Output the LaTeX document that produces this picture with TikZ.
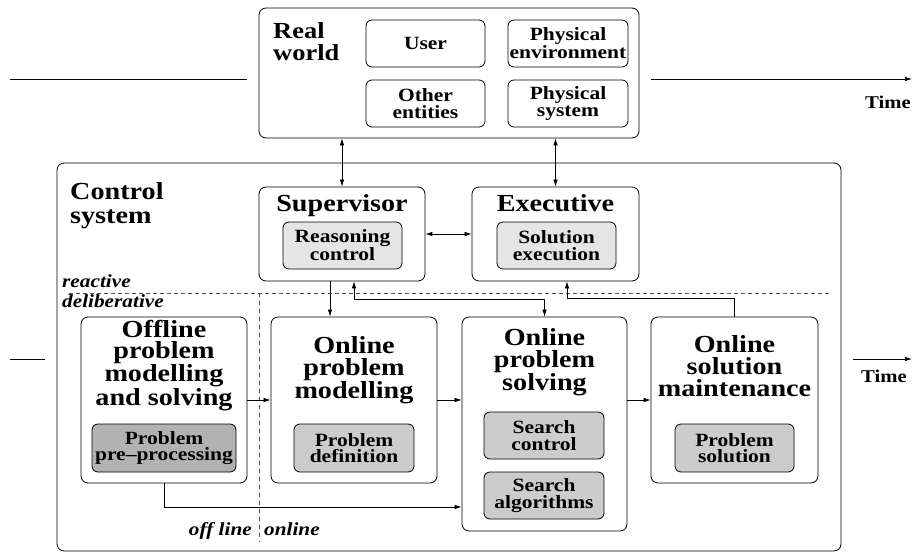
\documentclass[tikz,border=0pt]{standalone}
\usepackage{fontspec}
\setmainfont{Liberation Serif}[FakeStretch=1.15]
\usetikzlibrary{arrows.meta}
\begin{document}
\begin{tikzpicture}[x=1pt,y=-1pt,
  box/.style={draw, rounded corners=7pt, line width=0.8pt, inner sep=0pt},
  inbox/.style={draw, rounded corners=6pt, line width=0.8pt, inner sep=0pt, align=center,
     font=\fontsize{18.7}{16.5}\selectfont\bfseries, minimum width=119pt, minimum height=47pt},
  big/.style={font=\fontsize{24.5}{22}\selectfont\bfseries, align=center, inner sep=0pt},
  lbl/.style={font=\fontsize{18.5}{20}\selectfont\bfseries\itshape, inner sep=0pt},
  tlbl/.style={font=\fontsize{18}{20}\selectfont\bfseries, inner sep=0pt},
  arr/.style={-{Latex[length=7pt,width=4.5pt]}, line width=0.7pt},
  darr/.style={{Latex[length=7pt,width=4.5pt]}-{Latex[length=7pt,width=4.5pt]}, line width=0.7pt},
  sepline/.style={dash pattern=on 4pt off 3pt, line width=0.7pt, black!70}
]
\useasboundingbox (0,0) rectangle (914,554);

% Real world
\node[box, minimum width=380pt, minimum height=130pt] (rw) at (449,73) {};
\node[font=\fontsize{23}{21.7}\selectfont\bfseries, align=left, inner sep=0pt, anchor=base west] (rwt) at (273,60) {Real\\world};
\node[inbox] (user) at (425.5,43.5) {User};
\node[inbox, minimum width=120pt] (penv) at (568,43.5) {Physical\\environment};
\node[inbox] (other) at (425.5,103.5) {Other\\entities};
\node[inbox, minimum width=120pt] (psys) at (568,103.5) {Physical\\system};

% Time lines top
\coordinate (tl1) at (10,79);
\coordinate (tl2) at (247,79);
\coordinate (tr1) at (651,79);
\coordinate (tr2) at (912,79);
\draw[line width=0.7pt] (tl1) -- (tl2);
\draw[arr] (tr1) -- (tr2);
\node[tlbl, anchor=base] (time1) at (888,108) {Time};

% Control system
\node[box, minimum width=784pt, minimum height=388pt] (cs) at (449,357) {};
\node[font=\fontsize{24.5}{24}\selectfont\bfseries, align=left, inner sep=0pt, anchor=base west] (cst) at (70,223.3) {Control\\system};

% Supervisor & Executive
\node[box, minimum width=166pt, minimum height=94pt] (sup) at (342,234) {};
\node[big, anchor=base] (supt) at (342,211) {Supervisor};
\node[inbox, fill=black!10] (reas) at (342.5,245.5) {Reasoning\\control};
\node[box, minimum width=167pt, minimum height=94pt] (exe) at (555.5,234) {};
\node[big, anchor=base] (exet) at (555.5,211) {Executive};
\node[inbox, fill=black!10] (solx) at (556.5,245.5) {Solution\\execution};

% dashed separators
\coordinate (d1) at (69,293);
\coordinate (d2) at (830,293);
\coordinate (v1) at (259,293);
\coordinate (v2) at (259,542);
\draw[sepline] (d1) -- (d2);
\draw[sepline, dash pattern=on 4pt off 4pt] (v1) -- (v2);
\node[lbl, anchor=base west] (react) at (62,287) {reactive};
\node[lbl, anchor=base west] (delib) at (62,307) {deliberative};
\node[lbl, anchor=base east] (offl) at (252,535) {off line};
\node[lbl, anchor=base west] (onl) at (264,535) {online};

% Bottom boxes
\node[box, minimum width=166pt, minimum height=166pt] (off) at (164,400) {};
\node[big, font=\fontsize{24.5}{20.8}\selectfont\bfseries, anchor=base] (offt) at (164,405) {Offline\\problem\\modelling\\and solving};
\node[inbox, fill=black!30, minimum width=144pt, minimum height=48pt] (prep) at (164,448) {Problem\\pre--processing};

\node[box, minimum width=166pt, minimum height=166pt] (opm) at (354,400) {};
\node[big, font=\fontsize{24.5}{22.5}\selectfont\bfseries, anchor=base] (opmt) at (354,398.3) {Online\\problem\\modelling};
\node[inbox, fill=black!20, minimum width=120pt, minimum height=48pt] (pdef) at (354,448) {Problem\\definition};

\node[box, minimum width=165pt, minimum height=214pt] (ops) at (544.5,424) {};
\node[big, anchor=base] (opst) at (544.5,390.7) {Online\\problem\\solving};
\node[inbox, fill=black!20, minimum width=120pt] (sctl) at (544,435.5) {Search\\control};
\node[inbox, fill=black!20, minimum width=120pt] (salg) at (544,495.5) {Search\\algorithms};

\node[box, minimum width=167pt, minimum height=166pt] (osm) at (734.5,400) {};
\node[big, anchor=base] (osmt) at (734.5,396.7) {Online\\solution\\maintenance};
\node[inbox, fill=black!20, minimum height=48pt] (psol) at (734.5,448) {Problem\\solution};

% Time lines bottom
\coordinate (bl1) at (10,359);
\coordinate (bl2) at (45,359);
\coordinate (br1) at (853,359);
\coordinate (br2) at (912,359);
\draw[line width=0.7pt] (bl1) -- (bl2);
\draw[arr] (br1) -- (br2);
\node[tlbl, anchor=base] (time2) at (884,382) {Time};

% connectors
\draw[darr] (rw.south -| sup.north) -- (sup.north);
\draw[darr] (rw.south -| exe.north) -- (exe.north);
\draw[darr] (sup.east) -- (exe.west);
\draw[arr] ([xshift=-12pt]sup.south) -- ([xshift=-12pt]sup.south |- opm.north);
\draw[darr] ([xshift=12pt]sup.south) -- ++(0,18) -| (ops.north);
\draw[arr] (osm.north) -- ++(0,-18) -| ([xshift=11.5pt]exe.south);
\draw[arr] (off.east) -- (opm.west);
\draw[arr] (opm.east) -- (opm.east -| ops.west);
\draw[arr] (ops.east |- osm.west) -- (osm.west);
\coordinate (oj) at (164,507);
\draw[arr] (off.south) |- (ops.west |- oj);
\end{tikzpicture}
\end{document}
